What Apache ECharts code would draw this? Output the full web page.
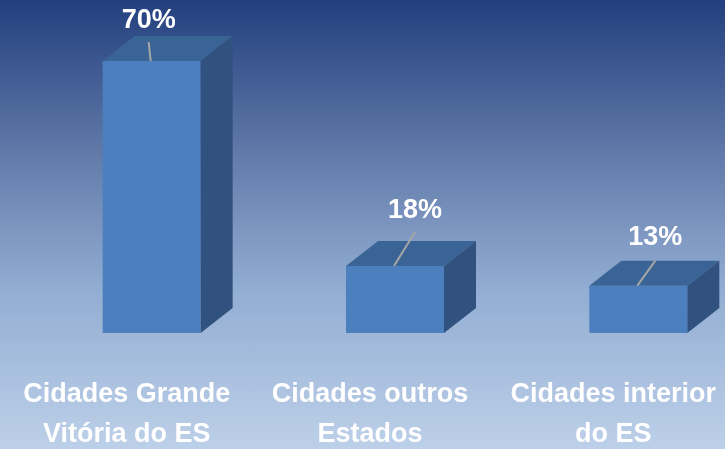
<!DOCTYPE html>
<html>
<head>
<meta charset="utf-8">
<script src="https://cdn.jsdelivr.net/npm/echarts@6/dist/echarts.min.js"></script>
<style>
  html, body { margin: 0; padding: 0; }
  #chart {
    width: 725px;
    height: 449px;
    background: linear-gradient(to bottom, #23407e 0%, #5f78a8 33%, #93aed3 65%, #bdd0e9 100%);
  }
</style>
</head>
<body>
<div id="chart"></div>
<script>
// dados
const categories = ['Cidades Grande\nVitória do ES', 'Cidades outros\nEstados', 'Cidades interior\ndo ES']
const values = [70, 18, 13]
const valueLabels = ['70%', '18%', '13%']

// posição dos rótulos (deslocamento do ponto de ligação) — só estilo
const labelOffsets = [[-2, -40], [21, -55], [18, -48]]
const lineStarts = [[-2, -19], [21, -34], [18, -25]]

const chart = echarts.init(document.getElementById('chart'))

// caixa 3D
const renderBox = (params, api) => {
  const i = api.value(0)
  const top = api.coord([i, api.value(1)])
  const base = api.coord([i, 1])
  const w = 98
  const dx = 32
  const dy = -25
  const x0 = top[0] + 25 - w / 2
  const x1 = x0 + w
  const yT = top[1]
  const yB = base[1]
  // ponto de ligação no topo da face frontal
  const ax = x0 + w / 2 - 1
  const off = labelOffsets[i]
  const ls = lineStarts[i]
  return {
    type: 'group',
    children: [
      {
        type: 'rect',
        shape: { x: x0, y: yT, width: w, height: yB - yT },
        style: { fill: '#4c7fbe' }
      },
      {
        type: 'polygon',
        shape: { points: [[x0, yT], [x0 + dx, yT + dy], [x1 + dx, yT + dy], [x1, yT]] },
        style: { fill: '#3b6496' }
      },
      {
        type: 'polygon',
        shape: { points: [[x1, yT], [x1 + dx, yT + dy], [x1 + dx, yB + dy], [x1, yB]] },
        style: { fill: '#31527e' }
      },
      {
        type: 'line',
        shape: { x1: ax + ls[0], y1: yT + ls[1], x2: ax, y2: yT },
        style: { stroke: '#a6a6a6', lineWidth: 2 }
      },
      {
        type: 'text',
        style: {
          x: ax + off[0],
          y: yT + off[1],
          text: valueLabels[i],
          fill: '#ffffff',
          font: 'bold 27px "Liberation Sans", sans-serif',
          align: 'center',
          verticalAlign: 'middle'
        }
      }
    ]
  }
}

chart.setOption({
  backgroundColor: 'transparent',
  animation: false,
  grid: { left: 5, width: 730, top: 61, height: 272, outerBoundsMode: 'none' },
  xAxis: {
    type: 'category',
    data: categories,
    axisLine: { show: false },
    axisTick: { show: false },
    axisLabel: {
      color: '#ffffff',
      fontWeight: 'bold',
      fontSize: 27,
      fontFamily: '"Liberation Sans", sans-serif',
      lineHeight: 40,
      margin: 42,
      interval: 0
    }
  },
  yAxis: {
    type: 'value',
    min: 1,
    max: 70,
    show: false,
    splitLine: { show: false }
  },
  series: [{
    type: 'custom',
    renderItem: renderBox,
    clip: false,
    data: values.map((v, i) => [i, v])
  }]
})
</script>
</body>
</html>
